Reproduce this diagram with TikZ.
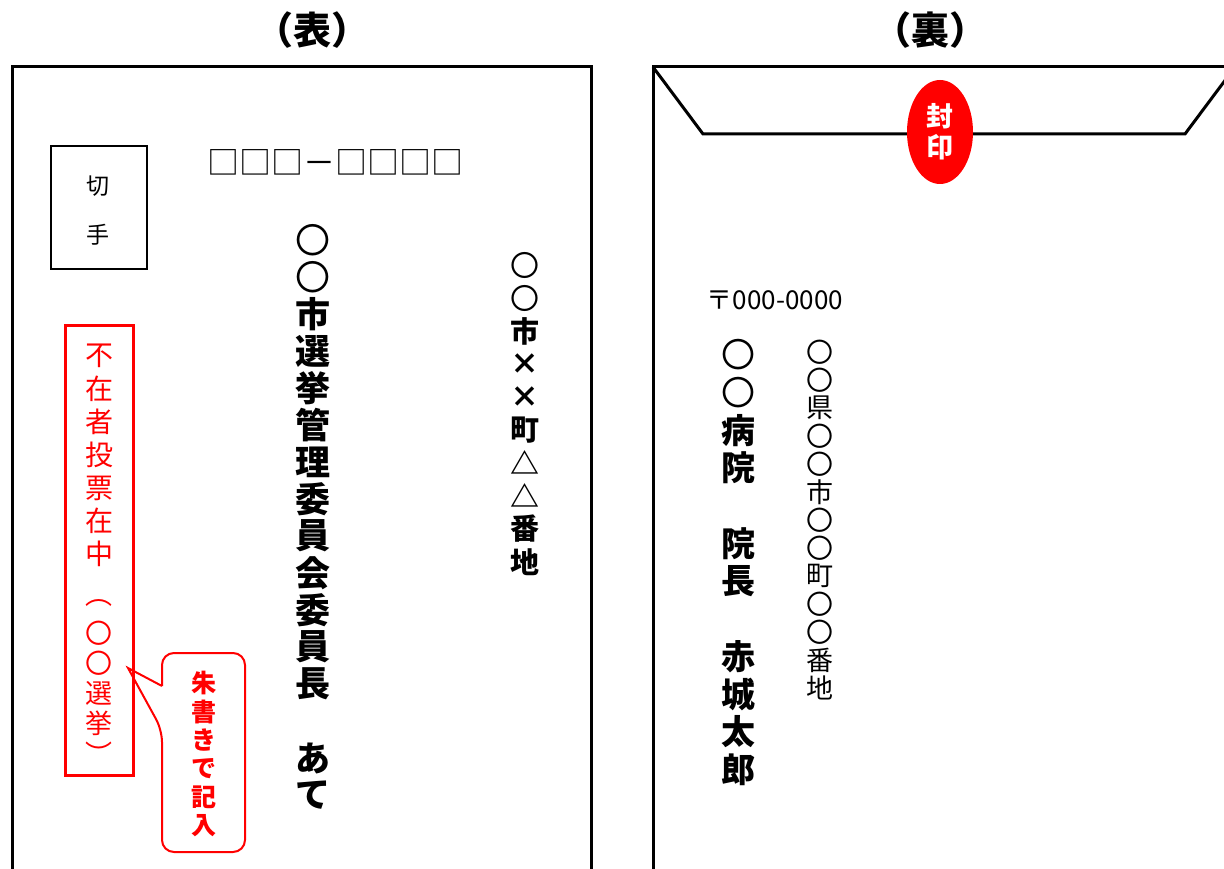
\documentclass[tikz,border=0pt]{standalone}
\usepackage{fontspec}
\newfontfamily\jp{Noto Sans CJK JP}
\usetikzlibrary{positioning,calc,shapes.geometric}
\tikzset{envline/.style={draw, line width=3pt, line join=miter}}
\tikzset{redbox/.style={draw=red, line width=3pt}}
\tikzset{vchar/.style={inner sep=0pt, anchor=center}}
\tikzset{titletext/.style={font=\jp\bfseries\fontsize{38}{38}\selectfont}}
\newcommand\vtext[5][]{%
	\foreach \vchr [count=\vi] in {#5}{
		\node[vchar, #1] (#2-\vi) at ($(#3)+(0,{(\vi-1)*#4})$) {\vchr};
	}}
\newcommand\maru{{\mdseries 〇}}

\begin{document}
\begin{tikzpicture}[x=1pt, y=-1pt]
	\useasboundingbox (0,0) rectangle (1224,869);
	\clip (0,0) rectangle (1224,869);
	\node[titletext] (front) at (312,30) {（表）};
	\node[titletext] (back) at (930,30) {（裏）};

	% front
	\draw[envline] (12,900) |- (591,67) -- (591,900);
	\node[draw, line width=2pt, minimum width=96pt, minimum height=123pt] (stamp) at (99,208) {};
	\node[font=\jp\fontsize{23}{23}\selectfont] (stampA) at (98,186) {切};
	\node[font=\jp\fontsize{23}{23}\selectfont, below=49pt of stampA.center, anchor=center] (stampB) {手};
	\node[font=\jp\fontsize{32}{32}\selectfont] (zip) at (335,162) {□□□－□□□□};
	\vtext[font=\jp\bfseries\fontsize{35}{35}\selectfont]{addr}{313,240}{37}{\maru,\maru,市,選,挙,管,理,委,員,会,委,員,長,　,あ,て}
	\vtext[font=\jp\bfseries\fontsize{29}{29}\selectfont]{addrB}{525,265}{33}{\maru,\maru,市,×,×,町,△,△,番,地}
	\node[redbox, minimum width=68pt, minimum height=450pt] (absent) at (99,550) {};
	\vtext[text=red, font=\jp\fontsize{28}{28}\selectfont]{absentText}{99,356}{33}{不,在,者,投,票,在,中}
	\vtext[text=red, font=\jp\fontsize{27}{27}\selectfont]{election}{99,603}{30}{︵,〇,〇,選,挙,︶}
	\coordinate (tip) at (128,668);
	\draw[red, line width=2pt, rounded corners=12pt] (162,686) |- (245,653) |- (162,852) -- (162,730)
		[sharp corners] -- (tip) -- (162,686);
	\vtext[text=red, font=\jp\bfseries\fontsize{25}{25}\selectfont]{note}{204,683}{28.5}{朱,書,き,で,記,入}

	% back
	\draw[envline] (653,900) |- (1240,67);
	\draw[envline] (653,67) -- (703,134) -- (1185,134) -- (1235,67);
	\node[ellipse, fill=red, text=white, align=center, inner sep=0pt, minimum width=66pt, minimum height=104pt,
		font=\jp\bfseries\fontsize{27}{31}\selectfont] (seal) at (940,132) {封\\印};
	\node[font=\jp\fontsize{26}{26}\selectfont] (post) at (775,300) {〒000-0000};
	\vtext[font=\jp\bfseries\fontsize{34}{34}\selectfont]{sender}{738,355}{37.7}{\maru,\maru,病,院,　,院,長,　,赤,城,太,郎}
	\vtext[font=\jp\fontsize{27}{27}\selectfont]{senderAddr}{820,352}{28}{〇,〇,県,〇,〇,市,〇,〇,町,〇,〇,番,地}
\end{tikzpicture}
\end{document}
